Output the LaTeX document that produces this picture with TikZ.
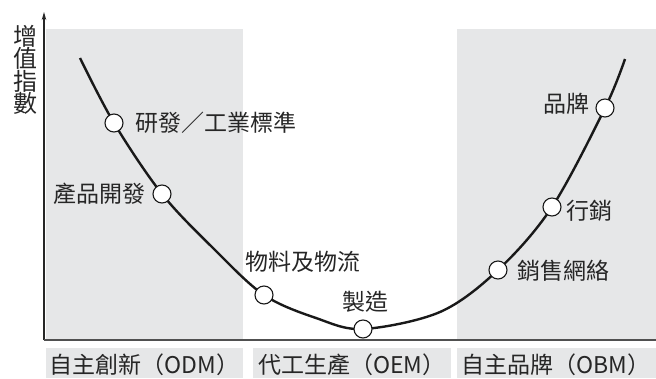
\documentclass[tikz,border=0pt]{standalone}
\usepackage{fontspec}
\setmainfont{Noto Sans CJK TC}
\usetikzlibrary{positioning, arrows.meta}
\definecolor{bandgrey}{HTML}{E6E7E8}
\definecolor{axisgrey}{HTML}{505050}
\tikzset{
every circle node/.style={draw, circle},
stage/.style={draw=black!90, fill=white, circle, minimum size=18pt, inner sep=0pt, line width=1.1pt},
tag/.style={inner sep=0pt, text=black!85, font=\fontsize{23}{23}\selectfont},
band/.style={fill=bandgrey, draw=none},
}

\begin{document}
\begin{tikzpicture}[x=1pt, y=-1pt]
    \useasboundingbox (0,0) rectangle (656,378);

    %grey bands behind the curve
    \fill[band] (46,29) rectangle (243,340);
    \fill[band] (457,29) rectangle (656,340);

    %grey boxes under the axis
    \fill[band] (46,348) rectangle (243,378);
    \fill[band] (253,348) rectangle (451,378);
    \fill[band] (457,348) rectangle (656,378);

    %axes
    \coordinate (origin) at (44,340);
    \coordinate (ytop) at (44,12);
    \coordinate (xend) at (656,340);
    \draw[line width=1.2pt, black!85, -{Stealth[length=8pt, width=4.5pt]}] (origin)--(ytop);
    \draw[line width=1.6pt, axisgrey] (origin)--(xend);

    %points on the curve
    \coordinate (lstart) at (80,58);
    \coordinate     (k1) at (114,123);
    \coordinate     (k2) at (162,194);
    \coordinate    (k23) at (214,249);
    \coordinate     (k3) at (264,295);
    \coordinate    (k34) at (316,318);
    \coordinate     (k4) at (363,329);
    \coordinate    (k45) at (440,312);
    \coordinate     (k5) at (498,270);
    \coordinate     (k6) at (552,207);
    \coordinate     (k7) at (605,108);
    \coordinate  (rend) at (625,59);

    %the smile curve
    \draw[line width=2.4pt, black!90] plot[smooth, tension=0.55]
        coordinates {(lstart) (k1) (k2) (k23) (k3) (k34) (k4) (k45) (k5) (k6) (k7) (rend)};

    %stage circles
    \node[stage] (rd)     at (k1) { };
    \node[stage] (design) at (k2) { };
    \node[stage] (supply) at (k3) { };
    \node[stage] (make)   at (k4) { };
    \node[stage] (sales)  at (k5) { };
    \node[stage] (market) at (k6) { };
    \node[stage] (brand)  at (k7) { };

    %stage labels
    \node[tag] (rdtag)     at (215.5,123) {研發／工業標準};
    \node[tag] (designtag) at (99,194)    {產品開發};
    \node[tag] (supplytag) at (303,262)   {物料及物流};
    \node[tag] (maketag)   at (365,302)   {製造};
    \node[tag] (salestag)  at (563.5,271) {銷售網絡};
    \node[tag] (markettag) at (589,211)   {行銷};
    \node[tag] (brandtag)  at (566,104)   {品牌};

    %axis labels
    \node[tag, align=center, font=\fontsize{24}{22.5}\selectfont] (ylabel) at (25,70) {增\\值\\指\\數};
    \node[tag] (odm) at (144.5,364.5) {自主創新（ODM）};
    \node[tag] (oem) at (352,364.5)   {代工生產（OEM）};
    \node[tag] (obm) at (556,364.5)   {自主品牌（OBM）};

\end{tikzpicture}
\end{document}
